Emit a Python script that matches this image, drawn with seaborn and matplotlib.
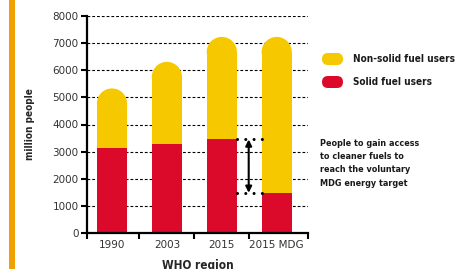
import numpy as np
import seaborn as sns
import matplotlib.pyplot as plt
from matplotlib.patches import Ellipse, FancyBboxPatch, Rectangle

# Data
regions = ["1990", "2003", "2015", "2015 MDG"]
total_users = [5330, 6310, 7230, 7230]      # million people, all users
solid_users = [3150, 3280, 3450, 1480]      # million people, solid fuel users
legend_labels = ["Non-solid fuel users", "Solid fuel users"]
note_text = "People to gain access\nto cleaner fuels to\nreach the voluntary\nMDG energy target"
y_ticks = [0, 1000, 2000, 3000, 4000, 5000, 6000, 7000, 8000]

YELLOW = "#F5C800"
RED = "#DC0A2A"
ORANGE = "#F0A000"
NARROW = dict(family="DejaVu Sans", fontstretch="condensed", fontweight="bold")

sns.set_style("white")
plt.rcParams["font.family"] = ["DejaVu Sans"]

fig = plt.figure(figsize=(4.55, 2.69), dpi=100)
ax = fig.add_axes([87 / 455, 1 - 233 / 269, 221 / 455, 217 / 269])

# gridlines behind bars
ax.set_axisbelow(True)
ax.yaxis.grid(True, color="black", linewidth=0.8, linestyle=(0, (2.5, 1.8)))
ax.xaxis.grid(False)

sns.barplot(x=regions, y=total_users, color=YELLOW, saturation=1, width=0.55,
            edgecolor="none", linewidth=0, ax=ax)
sns.barplot(x=regions, y=solid_users, color=RED, saturation=1, width=0.55,
            edgecolor="none", linewidth=0, ax=ax)

x0, x1 = -0.455, len(regions) - 0.43
ax.set_xlim(x0, x1)
ax.set_ylim(0, 8000)
ax.set_yticks(y_ticks)
ax.set_yticklabels([str(v) for v in y_ticks], fontsize=7.5, color="#333333")
ax.tick_params(axis="y", length=4, width=1.5, direction="out", pad=2, color="black", left=True)
ax.tick_params(axis="x", which="major", length=0, labelsize=7.5, labelcolor="#333333", pad=5)
ax.set_xticks([x0] + list(np.arange(0.5, len(regions) - 1)) + [x1], minor=True)
ax.tick_params(axis="x", which="minor", length=4, width=1.5, direction="out", color="black", bottom=True)

for s in ["top", "right"]:
    ax.spines[s].set_visible(False)
for s in ["left", "bottom"]:
    ax.spines[s].set_linewidth(1.6)
    ax.spines[s].set_color("black")

ax.set_ylabel("million people", fontsize=7.2, **NARROW)
ax.yaxis.set_label_coords((35 - 87) / 221, 0.5)
ax.set_xlabel("WHO region", fontsize=8.5, va="top", **NARROW)
ax.xaxis.set_label_coords(0.5, -(259 - 233) / 217)

# rounded caps on the top (yellow) bars
fig.canvas.draw()
px_per_unit_y = ax.transData.transform((0, 1000))[1] - ax.transData.transform((0, 0))[1]
px_per_unit_x = ax.transData.transform((1, 0))[0] - ax.transData.transform((0, 0))[0]
for p in ax.patches[:len(regions)]:
    x, w, h = p.get_x(), p.get_width(), p.get_height()
    cap_h = (w * px_per_unit_x / 2) / px_per_unit_y * 1000
    p.set_height(h - cap_h)
    ax.add_patch(Ellipse((x + w / 2, h - cap_h), w, 2 * cap_h, facecolor=YELLOW,
                         edgecolor="none", zorder=p.get_zorder()))

# arrow + dotted guides between 2015 and 2015 MDG solid fuel users
bar_w = ax.patches[0].get_width()
x_left = 2 + bar_w / 2
x_right = 3 - bar_w / 2
for lvl in [solid_users[2], solid_users[3]]:
    ax.plot([x_left, x_right], [lvl, lvl], color="black", lw=2.2,
            linestyle=(0, (0.01, 2.7)), dash_capstyle="round", zorder=5)
ax.annotate("", xy=(2.49, solid_users[2]), xytext=(2.49, solid_users[3]),
            arrowprops=dict(arrowstyle="<|-|>", color="black", lw=1.5,
                            mutation_scale=9, shrinkA=0, shrinkB=0), zorder=6)

# legend (pill markers)
pill_colors = [YELLOW, RED]
for i, (lab, col) in enumerate(zip(legend_labels, pill_colors)):
    yc = (269 - (59 + 23 * i)) / 100
    fig.patches.append(FancyBboxPatch((3.28, yc), 0.09, 0.0,
                                      boxstyle="round,pad=0.06",
                                      transform=fig.dpi_scale_trans,
                                      facecolor=col, edgecolor="none"))
    fig.text(353 / 455, 1 - (59 + 23 * i) / 269, lab, fontsize=7.2,
             va="center", ha="left", color="#1a1a1a", **NARROW)

fig.text(320 / 455, 1 - 139 / 269, note_text, fontsize=6.5, va="top", ha="left",
         linespacing=1.6, color="#1a1a1a", **NARROW)

# orange side rule
fig.patches.append(Rectangle((9 / 455, 0), 6 / 455, 1, transform=fig.transFigure,
                             facecolor=ORANGE, edgecolor="none"))

fig.savefig("out.png", dpi=100)
